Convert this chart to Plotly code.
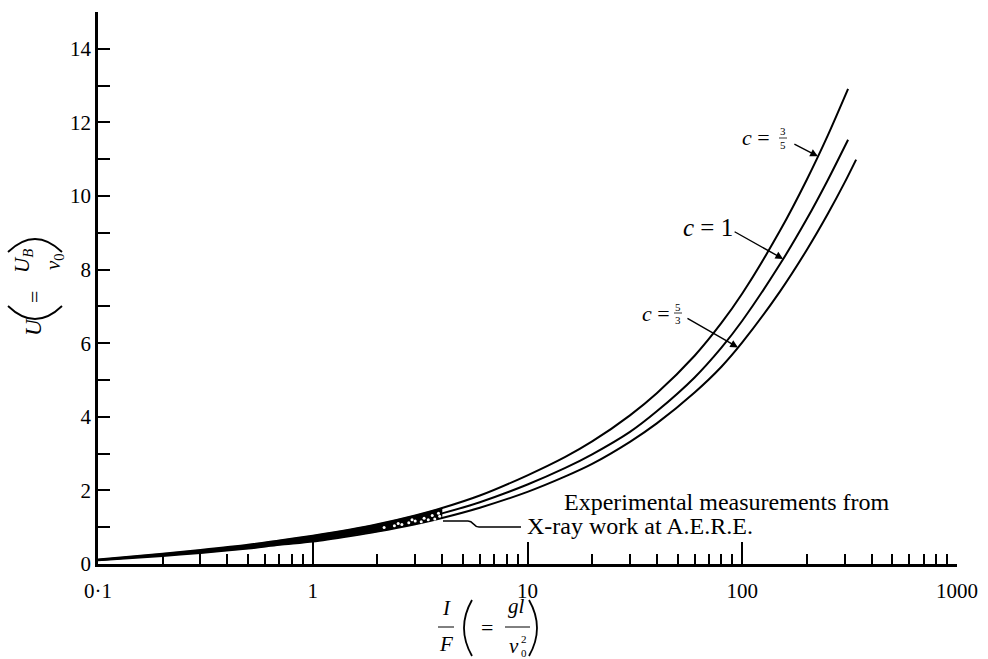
import numpy as np
import plotly.graph_objects as go

# ---- data ----
x_c35 = [0.1, 0.2, 0.3, 0.5, 0.7, 1, 1.5, 2, 3, 4, 6, 10, 15, 20, 30, 40, 60, 80, 100, 150, 200, 250, 311]
u_c35 = [0.12, 0.28, 0.38, 0.52, 0.64, 0.77, 0.94, 1.08, 1.32, 1.52, 1.86, 2.41, 2.91, 3.33, 4.04, 4.64, 5.66, 6.55, 7.35, 9.06, 10.45, 11.64, 12.91]

x_c1 = [0.1, 0.2, 0.3, 0.5, 0.7, 1, 1.5, 2, 3, 4, 6, 10, 15, 20, 30, 40, 60, 80, 100, 150, 200, 250, 311]
u_c1 = [0.11, 0.25, 0.34, 0.47, 0.58, 0.69, 0.85, 0.98, 1.19, 1.375, 1.68, 2.16, 2.61, 2.98, 3.59, 4.15, 5.07, 5.88, 6.61, 8.15, 9.38, 10.43, 11.53]

x_c53 = [0.1, 0.2, 0.3, 0.5, 0.7, 1, 1.5, 2, 3, 4, 6, 10, 15, 20, 30, 40, 60, 80, 100, 150, 200, 250, 300, 339]
u_c53 = [0.10, 0.22, 0.30, 0.42, 0.52, 0.61, 0.76, 0.88, 1.08, 1.25, 1.53, 1.96, 2.38, 2.72, 3.32, 3.82, 4.66, 5.36, 6.02, 7.41, 8.54, 9.51, 10.37, 10.99]

# experimental measurements (white dots in the dark band)
exp_x = [2.15, 2.4, 2.6, 2.8, 3.0, 3.2, 3.3, 3.45, 3.6, 3.7, 3.85, 3.9, 2.9, 2.5]
exp_u = [0.99, 1.04, 1.07, 1.12, 1.17, 1.15, 1.24, 1.2, 1.32, 1.22, 1.38, 1.3, 1.2, 1.1]

x_tickvals = [0.1, 1, 10, 100, 1000]
x_ticktext = ["0·1", "1", "10", "100", "1000"]
x_minor = [m * d for d in (0.1, 1, 10, 100) for m in range(2, 10)]
y_tickvals = [0, 2, 4, 6, 8, 10, 12, 14]
y_minor = [1, 3, 5, 7, 9, 11, 13, 15]

FONT = "Liberation Serif, Times New Roman, serif"

# plot-area geometry in pixels
L, R, T, B = 98, 31, 12, 95
W, H = 988, 659
PW, PH = W - L - R, H - T - B


def PX(px):
    return (px - L) / PW


def PY(py):
    return (H - B - py) / PH


fig = go.Figure()

# dark band where the three curves coincide (up to the experimental range)
band_top = [(x, u) for x, u in zip(x_c35, u_c35) if x <= 4]
band_bot = [(x, u) for x, u in zip(x_c53, u_c53) if x <= 4]
bx = [p[0] for p in band_top] + [p[0] for p in band_bot[::-1]]
by = [p[1] for p in band_top] + [p[1] for p in band_bot[::-1]]
fig.add_trace(go.Scatter(x=bx, y=by, fill="toself", fillcolor="black",
                         line=dict(width=0.5, color="black"), mode="lines",
                         hoverinfo="skip", showlegend=False))

for xs, us, name in [(x_c35, u_c35, "c=3/5"), (x_c1, u_c1, "c=1"), (x_c53, u_c53, "c=5/3")]:
    fig.add_trace(go.Scatter(x=xs, y=us, mode="lines", name=name,
                             line=dict(color="black", width=2, shape="spline", smoothing=0.8),
                             showlegend=False))

fig.add_trace(go.Scatter(x=exp_x, y=exp_u, mode="markers",
                         marker=dict(color="white", size=3, line=dict(width=0)),
                         showlegend=False, name="Experimental"))


def tip(xs, us, xt):
    return np.log10(xt), float(np.interp(np.log10(xt), np.log10(xs), us))


ann = []
# arrows to curves
for (xs, us, xt, axo, ayo) in [(x_c35, u_c35, 225, -25, -13),
                              (x_c1, u_c1, 155, -50, -28),
                              (x_c53, u_c53, 95.5, -52, -30)]:
    lx, ly = tip(xs, us, xt)
    ann.append(dict(x=lx, y=ly, xref="x", yref="y", text="", showarrow=True,
                    arrowhead=2, arrowsize=1.1, arrowwidth=1.4, arrowcolor="black",
                    ax=axo, ay=ayo, standoff=0))


def txt(px, py, text, size, anchor="center", angle=0):
    ann.append(dict(x=PX(px), y=PY(py), xref="paper", yref="paper", text=text,
                    showarrow=False, xanchor=anchor, yanchor="middle", textangle=angle,
                    font=dict(family=FONT, size=size, color="black")))


# curve labels
txt(756, 137, "<i>c</i> =", 22)
txt(783, 131, "3", 11)
txt(783, 145, "5", 11)
txt(708, 228, "<i>c</i> = 1", 25)
txt(656, 313, "<i>c</i> =", 22)
txt(678, 307, "5", 11)
txt(678, 320, "3", 11)

# experimental note
txt(562, 502, "Experimental measurements from", 24, anchor="left")
txt(525, 526, "X-ray work at A.E.R.E.", 24, anchor="left")

# x-axis title
txt(446, 608, "<i>I</i>", 21)
txt(446, 644, "<i>F</i>", 21)
txt(487, 627, "=", 22)
txt(516, 606, "<i>gl</i>", 21)
txt(514, 646, "<i>v</i>", 21)
txt(524, 639, "2", 11)
txt(524, 653, "0", 11)

# y-axis title (rotated)
txt(33, 327, "<i>U</i>", 23, angle=-90)
txt(34, 297, "=", 22, angle=-90)
txt(23, 261, "<i>U<sub>B</sub></i>", 21, angle=-90)
txt(54, 262, "<i>v</i><sub>0</sub>", 21, angle=-90)

shapes = []


def hline(x0, x1, y, w=1.0):
    shapes.append(dict(type="line", xref="paper", yref="paper", x0=PX(x0), x1=PX(x1),
                       y0=PY(y), y1=PY(y), line=dict(color="black", width=w)))


def qpath(p0, c, p1, w=1.8):
    path = "M {:.5f},{:.5f} Q {:.5f},{:.5f} {:.5f},{:.5f}".format(
        PX(p0[0]), PY(p0[1]), PX(c[0]), PY(c[1]), PX(p1[0]), PY(p1[1]))
    shapes.append(dict(type="path", xref="paper", yref="paper", path=path,
                       line=dict(color="black", width=w)))


hline(438, 454, 627)
hline(505, 530, 627)
hline(779, 787, 138, 0.8)
hline(674, 682, 313, 0.8)

# big parentheses of the axis titles
qpath((472, 600), (456, 628), (472, 656))
qpath((529, 600), (545, 628), (529, 656))
qpath((8, 306), (35, 332), (62, 306))
qpath((8, 252), (35, 226), (62, 252))

# leader from the experimental region to the note
path = "M {:.5f},{:.5f} L {:.5f},{:.5f} ".format(PX(443), PY(521), PX(468), PY(521))
path += "C {:.5f},{:.5f} {:.5f},{:.5f} {:.5f},{:.5f} ".format(PX(474), PY(521), PX(473), PY(527), PX(479), PY(527))
path += "L {:.5f},{:.5f}".format(PX(521), PY(527))
shapes.append(dict(type="path", xref="paper", yref="paper", path=path,
                   line=dict(color="black", width=1.6)))

fig.update_layout(
    width=W, height=H,
    margin=dict(l=L, r=R, t=T, b=B, autoexpand=False),
    paper_bgcolor="white", plot_bgcolor="white",
    font=dict(family=FONT, color="black"),
    annotations=ann, shapes=shapes,
    showlegend=False,
)

fig.update_xaxes(type="log", range=[-1, 3], showgrid=False, zeroline=False,
                 showline=True, linecolor="black", linewidth=2.5,
                 tickvals=x_tickvals, ticktext=x_ticktext,
                 ticks="inside", ticklen=22, tickwidth=2, tickcolor="black",
                 tickfont=dict(family=FONT, size=21, color="black"),
                 ticklabelstandoff=6,
                 minor=dict(tickvals=x_minor, ticks="inside", ticklen=10,
                            tickwidth=1.6, tickcolor="black", showgrid=False),
                 automargin=False)

fig.update_yaxes(range=[0, 15], showgrid=False, zeroline=False,
                 showline=True, linecolor="black", linewidth=2.5,
                 tickvals=y_tickvals,
                 ticks="inside", ticklen=12, tickwidth=2, tickcolor="black",
                 tickfont=dict(family=FONT, size=21, color="black"),
                 minor=dict(tickvals=y_minor, ticks="inside", ticklen=12,
                            tickwidth=2, tickcolor="black", showgrid=False),
                 automargin=False)

fig.write_html("out.html", config={"displayModeBar": False},
               post_script="document.body.style.margin='0px';")
